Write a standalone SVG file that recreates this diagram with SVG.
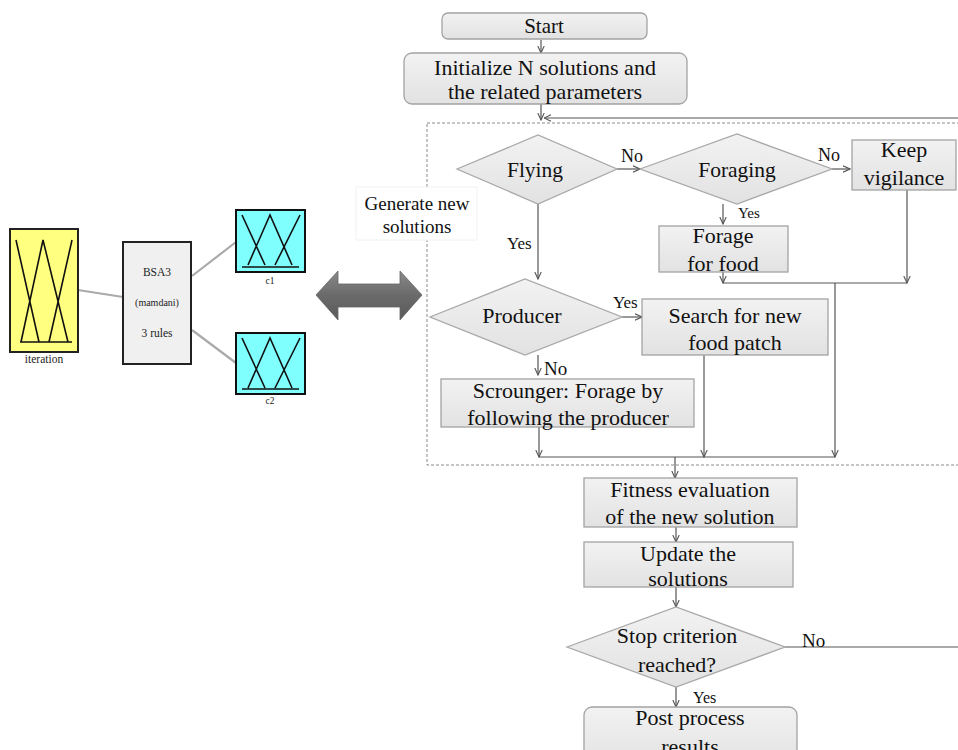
<svg xmlns="http://www.w3.org/2000/svg" width="958" height="750" viewBox="0 0 958 750">
<defs>
<linearGradient id="gBox" x1="0" y1="0" x2="0" y2="1">
<stop offset="0" stop-color="#f2f2f2"/>
<stop offset="1" stop-color="#e2e2e2"/>
</linearGradient>
<linearGradient id="gArrow" x1="0" y1="0" x2="0" y2="1">
<stop offset="0" stop-color="#8a8a8a"/>
<stop offset="0.5" stop-color="#6a6a6a"/>
<stop offset="1" stop-color="#5a5a5a"/>
</linearGradient>
<marker id="arr" viewBox="0 0 8 8" refX="7.5" refY="4" markerWidth="8" markerHeight="8" markerUnits="userSpaceOnUse" orient="auto">
<path d="M0.5,0.8 L7.5,4 L0.5,7.2" fill="none" stroke="#555" stroke-width="1.1"/>
</marker>
</defs>
<style>
.t{font-family:"Liberation Serif","Times New Roman",serif;fill:#111;text-anchor:middle}
.m{font-size:22px}
.lb{font-family:"Liberation Serif","Times New Roman",serif;fill:#111}
.box{fill:url(#gBox);stroke:#a3a3a3;stroke-width:1.3}
.dia{fill:url(#gBox);stroke:#a8a8a8;stroke-width:1.3}
.c{fill:none;stroke:#555;stroke-width:1.2}
.ca{fill:none;stroke:#555;stroke-width:1.2;marker-end:url(#arr)}
.g{fill:none;stroke:#aaaaaa;stroke-width:2.2}
.mf{fill:none;stroke:#111;stroke-width:1.6}
.s{font-family:"Liberation Serif","Times New Roman",serif;fill:#222;text-anchor:middle}
</style>
<rect width="958" height="750" fill="#ffffff"/>

<!-- fuzzy system part -->
<g id="fis-links">
<line class="g" x1="78" y1="290" x2="123" y2="297"/>
<line class="g" x1="192" y1="276" x2="236" y2="242"/>
<line class="g" x1="192" y1="330" x2="236" y2="363"/>
</g>
<g id="iteration">
<rect x="10" y="229" width="68" height="123" fill="#ffff80" stroke="#222" stroke-width="2"/>
<path class="mf" d="M20,342 H72 M16,240 L39,342 M21,342 L43,240 L68,342 M72,240 L49,342"/>
<text class="s" x="44" y="363" font-size="11.5">iteration</text>
</g>
<g id="bsa3">
<rect x="123" y="242" width="68" height="122" fill="#f0f0f0" stroke="#222" stroke-width="2"/>
<text class="s" x="157" y="276" font-size="11.5">BSA3</text>
<text class="s" x="157" y="306" font-size="10">(mamdani)</text>
<text class="s" x="157" y="337" font-size="11.5">3 rules</text>
</g>
<g id="c1">
<rect x="236" y="210" width="69" height="62" fill="#80ffff" stroke="#111" stroke-width="2"/>
<path class="mf" d="M242,267 H299 M242,215 L265,265 M248,265 L270,215 L292,265 M300,215 L275,265"/>
<text class="s" x="270" y="284" font-size="9.5">c1</text>
</g>
<g id="c2">
<rect x="236" y="333" width="69" height="61" fill="#80ffff" stroke="#111" stroke-width="2"/>
<path class="mf" d="M242,389 H299 M242,338 L265,388 M248,388 L270,338 L292,388 M300,338 L275,388"/>
<text class="s" x="270" y="404" font-size="9.5">c2</text>
</g>
<g id="double-arrow">
<path d="M316,295 L338,271 L338,284 L400,284 L400,271 L422,295 L400,320 L400,307 L338,307 L338,320 Z" fill="url(#gArrow)" stroke="#666" stroke-width="0.8"/>
</g>

<!-- dashed region -->
<g id="generate-region">
<rect x="427" y="123" width="560" height="342" fill="none" stroke="#8a8a8a" stroke-width="1" stroke-dasharray="3,2"/>
</g>
<g id="generate-label">
<rect x="356" y="187" width="121" height="53" fill="#ffffff" stroke="#f2f2f2" stroke-width="1"/>
<text class="t" x="417" y="210" font-size="19">Generate new</text>
<text class="t" x="417" y="233" font-size="19">solutions</text>
</g>

<!-- connectors -->
<g id="connectors">
<line class="ca" x1="541" y1="40" x2="541" y2="53"/>
<line class="ca" x1="541" y1="104" x2="541" y2="120"/>
<line class="ca" x1="958" y1="118" x2="544" y2="118"/>
<line class="ca" x1="617" y1="169" x2="640" y2="169"/>
<line class="ca" x1="832" y1="169" x2="850" y2="169"/>
<line class="ca" x1="723" y1="204" x2="723" y2="224"/>
<line class="ca" x1="538" y1="204" x2="538" y2="279"/>
<line class="ca" x1="723" y1="272" x2="723" y2="283"/>
<line class="ca" x1="907" y1="190" x2="907" y2="283"/>
<line class="c" x1="723" y1="283" x2="907" y2="283"/>
<line class="ca" x1="835" y1="283" x2="835" y2="457"/>
<line class="ca" x1="622" y1="317" x2="642" y2="317"/>
<line class="ca" x1="538" y1="355" x2="538" y2="375"/>
<line class="ca" x1="539" y1="427" x2="539" y2="457"/>
<line class="ca" x1="704" y1="355" x2="704" y2="457"/>
<line class="c" x1="539" y1="457" x2="835" y2="457"/>
<line class="ca" x1="675" y1="457" x2="675" y2="478"/>
<line class="ca" x1="676" y1="527" x2="676" y2="542"/>
<line class="ca" x1="676" y1="587" x2="676" y2="607"/>
<line class="c" x1="785" y1="647" x2="958" y2="647"/>
<line class="ca" x1="676" y1="687" x2="676" y2="707"/>
<text class="lb" x="621" y="162" font-size="18">No</text>
<text class="lb" x="818" y="161" font-size="18">No</text>
<text class="lb" x="738" y="218" font-size="15">Yes</text>
<text class="lb" x="507" y="249" font-size="17">Yes</text>
<text class="lb" x="613" y="308" font-size="17">Yes</text>
<text class="lb" x="544" y="375" font-size="19">No</text>
<text class="lb" x="802" y="647" font-size="19">No</text>
<text class="lb" x="693" y="703" font-size="16">Yes</text>
</g>

<!-- flow nodes -->
<g id="start">
<rect class="box" x="442" y="13" width="205" height="26" rx="6"/>
<text class="t" x="544" y="33" font-size="21">Start</text>
</g>
<g id="initialize">
<rect class="box" x="404" y="53" width="283" height="51" rx="8"/>
<text class="t m" x="545" y="75">Initialize N solutions and</text>
<text class="t m" x="545" y="99">the related parameters</text>
</g>
<g id="flying">
<polygon class="dia" points="457,169 538,135 617,169 538,204"/>
<text class="t" x="535" y="177" font-size="21.5">Flying</text>
</g>
<g id="foraging">
<polygon class="dia" points="640,169 737,134 832,169 737,204"/>
<text class="t" x="737" y="177" font-size="21.5">Foraging</text>
</g>
<g id="keep-vigilance">
<rect class="box" x="852" y="140" width="104" height="50"/>
<text class="t m" x="904" y="157">Keep</text>
<text class="t m" x="904" y="185">vigilance</text>
</g>
<g id="forage-for-food">
<rect class="box" x="659" y="226" width="129" height="46"/>
<text class="t m" x="723" y="243">Forage</text>
<text class="t m" x="723" y="271">for food</text>
</g>
<g id="producer">
<polygon class="dia" points="430,317 525,279 622,317 525,355"/>
<text class="t m" x="522" y="323">Producer</text>
</g>
<g id="search-food-patch">
<rect class="box" x="642" y="299" width="186" height="56"/>
<text class="t m" x="735" y="323">Search for new</text>
<text class="t m" x="735" y="350">food patch</text>
</g>
<g id="scrounger">
<rect class="box" x="441" y="379" width="253" height="48"/>
<text class="t m" x="568" y="398">Scrounger: Forage by</text>
<text class="t m" x="568" y="425">following the producer</text>
</g>
<g id="fitness">
<rect class="box" x="584" y="478" width="213" height="49"/>
<text class="t m" x="690" y="497">Fitness evaluation</text>
<text class="t m" x="690" y="524">of the new solution</text>
</g>
<g id="update">
<rect class="box" x="584" y="542" width="209" height="45"/>
<text class="t m" x="688" y="561">Update the</text>
<text class="t m" x="688" y="586">solutions</text>
</g>
<g id="stop-criterion">
<polygon class="dia" points="567,647 676,607 785,647 676,687"/>
<text class="t m" x="677" y="643">Stop criterion</text>
<text class="t m" x="677" y="672">reached?</text>
</g>
<g id="post-process">
<rect class="box" x="584" y="707" width="213" height="60" rx="8"/>
<text class="t m" x="690" y="725">Post process</text>
<text class="t m" x="690" y="754">results</text>
</g>
</svg>
